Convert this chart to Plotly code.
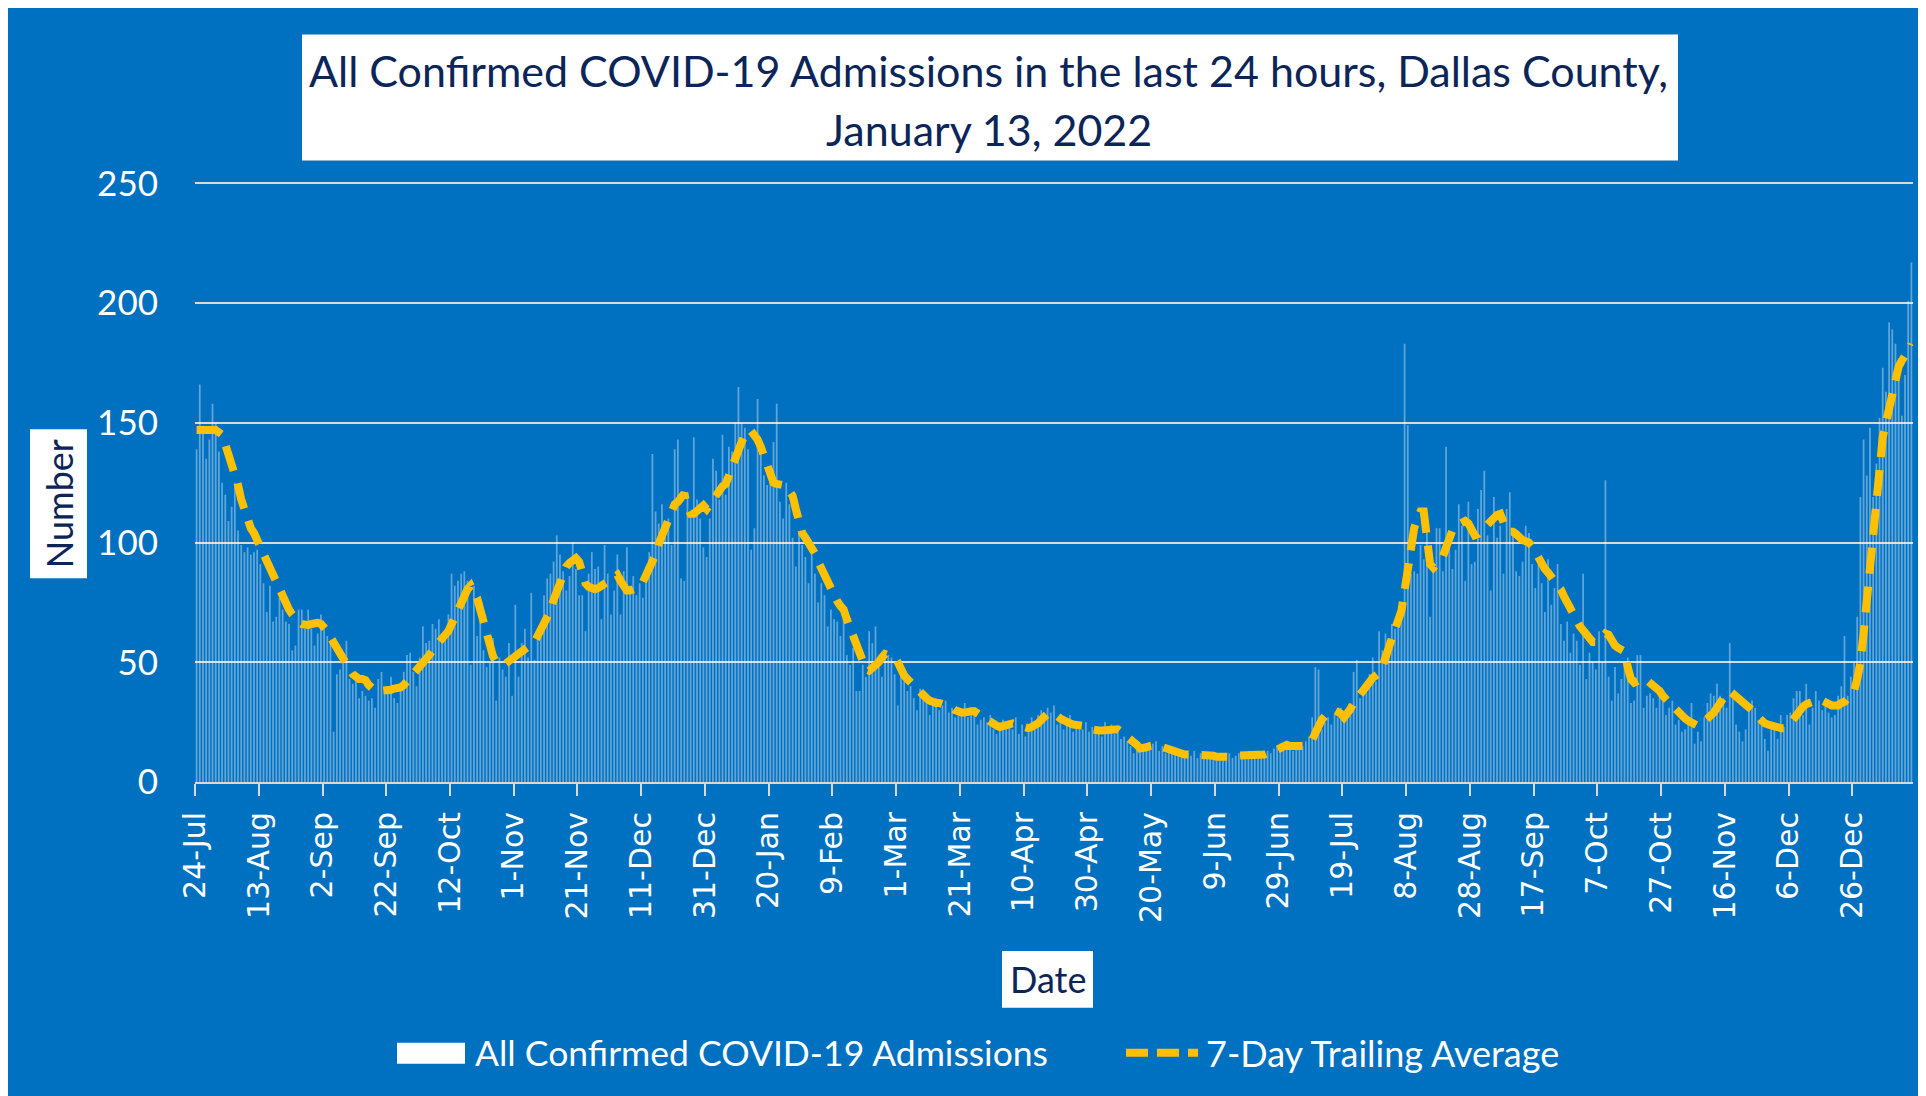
import pandas as pd
import plotly.graph_objects as go

# ---------------- DATA ----------------
START_DATE = "2020-07-24"

# Daily confirmed COVID-19 admissions, in 20-day blocks
adm_01 = [139,166,147,135,143,158,150,138,125,120,109,115,125,105,99,96,98,95,96,97]
adm_02 = [91,83,71,82,67,69,77,72,67,66,55,57,72,72,64,72,64,57,62,70]
adm_03 = [64,61,58,21,45,47,52,59,43,41,44,35,38,36,34,35,31,43,46,37]
adm_04 = [40,44,35,33,38,46,53,54,46,40,52,65,58,59,66,64,68,59,63,70]
adm_05 = [87,82,84,87,88,84,49,82,61,72,55,48,50,60,34,52,47,44,58,36]
adm_06 = [74,44,58,64,52,79,51,62,66,78,85,87,92,103,95,88,80,86,100,89]
adm_07 = [78,78,63,87,96,89,90,68,99,87,70,80,95,70,88,98,82,86,78,83]
adm_08 = [77,90,96,137,113,108,116,104,110,99,139,143,85,84,121,112,144,118,110,98]
adm_09 = [94,110,135,130,118,145,120,140,138,150,165,150,148,139,97,106,160,142,128,124]
adm_10 = [129,142,158,117,110,125,116,102,90,104,99,94,83,95,87,75,83,78,65,72]
adm_11 = [68,67,61,70,53,49,56,38,38,49,44,63,58,65,50,44,55,53,52,45]
adm_12 = [32,48,43,38,40,35,30,39,36,34,28,33,35,30,32,34,29,31,27,30]
adm_13 = [29,33,27,30,31,24,26,27,25,28,22,20,23,26,24,25,22,27,20,24]
adm_14 = [19,23,27,25,28,30,27,31,29,32,24,26,22,25,28,21,23,24,22,25]
adm_15 = [21,23,20,22,19,25,22,24,20,23,18,19,17,15,12,14,13,15,16,14]
adm_16 = [16,17,13,15,12,14,13,12,11,13,10,12,11,13,10,12,11,10,12,11]
adm_17 = [9,11,10,9,12,10,11,12,10,11,13,10,12,11,12,11,13,12,14,15]
adm_18 = [16,14,17,15,13,16,14,15,17,19,27,48,47,22,25,27,24,28,27,31]
adm_19 = [25,30,33,46,51,35,40,38,45,52,42,63,55,62,58,66,64,70,72,183]
adm_20 = [149,87,88,87,99,93,105,69,91,106,106,88,140,101,89,97,116,107,84,117]
adm_21 = [91,92,114,122,130,103,80,119,102,107,87,114,121,104,88,86,92,107,104,91]
adm_22 = [81,91,83,71,93,74,81,91,66,59,67,54,62,59,49,87,43,54,50,47]
adm_23 = [63,50,126,44,34,48,37,43,50,52,33,34,53,53,31,36,37,35,31,36]
adm_24 = [35,28,31,34,24,26,21,22,27,33,16,21,17,27,33,37,36,41,36,35]
adm_25 = [31,58,37,24,21,17,22,33,34,31,26,27,18,13,23,23,18,28,23,28]
adm_26 = [29,35,38,38,28,41,24,31,38,34,30,33,29,27,28,36,40,61,36,44]
adm_27 = [50,69,119,143,128,148,119,133,152,173,163,192,189,183,173,153,170,201,217]

# 7-day trailing average, in 20-day blocks
avg_01 = [147,147,147,147,147,147,147,146,145,141,137,134,129,124,118,113,109,106,104,101]
avg_02 = [97.5,95,92,89,85,82,79,76,74,72,70,68,67,66,65.5,65.5,66,66.5,66.5,66]
avg_03 = [65,63,60.5,58,55.5,53,51,49,47,45,43.5,43,43,42.5,40.5,38.5,38,38,38,38]
avg_04 = [38,38.5,39,39,39.5,40.5,42,43,44.5,46,47.5,49.5,51,53,55,57,58.5,60,61.5,63]
avg_05 = [66,70,73,75.5,78,80.5,82,80,77,72,67,61,56,52.5,50,49,49,49.5,50.5,51.5]
avg_06 = [52.5,53,54,55,56,57,58.5,61,63.5,66,68.5,71.5,76,79.5,83.5,87.5,90,91.5,93,93.5]
avg_07 = [92,87,83,81.5,81,80.5,81,82,83.5,84.5,85,85.5,86.5,84,81.5,80,80,80.5,81,81.5]
avg_08 = [83.5,86,89.5,91.5,95,99.5,103,106,110,113,116,117,119,120.5,115,112,112,113.5,115,115.5]
avg_09 = [114,116,118.5,120.5,122,123.5,124.5,128,133,137,140,142,145,147,146.5,145,143,140,136,131]
avg_10 = [127,125,124.5,124.5,124,123.5,122,119.5,114,108,104,102,100,98,95.5,92,89,86,83.5,81]
avg_11 = [78,75.5,73.5,72,68,64.5,62,59.5,55,50.5,47,46.5,47.5,48.5,50,52,53.5,53,52.5,52]
avg_12 = [50,46.5,44.5,43,41.5,40,38.5,37.5,36,35,34,33,33,33,32.5,32.5,32,31,30,29]
avg_13 = [29,29,29.5,29.5,29.5,28.5,27.5,27,26.5,25.5,24.5,23.5,23,23.5,24,24.5,24.5,24,23.5,23]
avg_14 = [22.5,22.5,23,23.5,24.5,26,27.5,28.5,29,28.5,27.5,26.5,25.5,25,24.5,24,24,23.5,23.5,23]
avg_15 = [23,22,21.5,21.5,21.5,21.5,22,22,22,22,21,20,19.5,18.5,17,15.5,14,14,14.5,15]
avg_16 = [15.5,15.5,15,14.5,14,14,13.5,13,12.5,12,11.5,11.5,11.5,11.5,11.5,11.5,11,11,11,11]
avg_17 = [10.5,10.5,10,10,10,10.5,10.5,11,11,11,11,11,11,11,11.5,11.5,12,12,12.5,13.5]
avg_18 = [14.5,15.5,15.5,15,15,14.5,14.5,14.5,15,16,17.5,20.5,24,26,27.5,29,29.5,30,29.5,28.5]
avg_19 = [27,28.5,30.5,33,35,37,39,40.5,42,43.5,44.5,45.5,48,51,56,60,63.5,67,71.5,80]
avg_20 = [89,100,106,110,113,113,104,91,89.5,91,93,94,98,102,105,107,108,109,109,108]
avg_21 = [105,103,103.5,105,106.5,107.5,108.5,110,111.5,112,108.5,105,104.5,104.5,103.5,102,101,100.5,100,98.5]
avg_22 = [96,93,90.5,89,87.5,86,84.5,83,80.5,77.5,74.5,72,70,67.5,65,63,61,59.5,58.5,58.5]
avg_23 = [59,60.5,62,61.5,59,57,56,55.5,54.5,48,43,41.5,42,43,43.5,42.5,41.5,41,40,38]
avg_24 = [36,34.5,33,32,31,29.5,28,26.5,25.5,24.5,24,23.5,24,25,26,27,29,31,33.5,35.5]
avg_25 = [37,38,37,35.5,34,33,32.5,31.5,30,28,26.5,25.5,24.5,24,23.5,23,22.5,22.5,22.5,23]
avg_26 = [24.5,26.5,28.5,30,31.5,32.5,33,34,34.5,34.5,34,33,32.5,32,32,32,33,33.5,35,36.5]
avg_27 = [38,43,50,62,76,91,107,121,134,144,150,156,162,169,173.5,176,177.5,180,183]

tick_labels = ["24-Jul", "13-Aug", "2-Sep", "22-Sep", "12-Oct", "1-Nov", "21-Nov",
               "11-Dec", "31-Dec", "20-Jan", "9-Feb", "1-Mar", "21-Mar", "10-Apr",
               "30-Apr", "20-May", "9-Jun", "29-Jun", "19-Jul", "8-Aug", "28-Aug",
               "17-Sep", "7-Oct", "27-Oct", "16-Nov", "6-Dec", "26-Dec"]
TICK_STEP_DAYS = 20
y_ticks = [0, 50, 100, 150, 200, 250]

admissions = (adm_01 + adm_02 + adm_03 + adm_04 + adm_05 + adm_06 + adm_07 + adm_08 + adm_09
              + adm_10 + adm_11 + adm_12 + adm_13 + adm_14 + adm_15 + adm_16 + adm_17 + adm_18
              + adm_19 + adm_20 + adm_21 + adm_22 + adm_23 + adm_24 + adm_25 + adm_26 + adm_27)
avg7 = (avg_01 + avg_02 + avg_03 + avg_04 + avg_05 + avg_06 + avg_07 + avg_08 + avg_09
        + avg_10 + avg_11 + avg_12 + avg_13 + avg_14 + avg_15 + avg_16 + avg_17 + avg_18
        + avg_19 + avg_20 + avg_21 + avg_22 + avg_23 + avg_24 + avg_25 + avg_26 + avg_27)

dates = pd.date_range(START_DATE, periods=len(admissions), freq="D")
avg_dates = pd.date_range(START_DATE, periods=len(avg7), freq="D")

# ---------------- STYLE / LAYOUT ----------------
OFF = 8                       # page body margin
W, H = 1926 - OFF, 1096 - OFF
Y_MAX = 251                   # small headroom so the 250 gridline is drawn
# plot-area box in screenshot pixels (250 sits at y=183, 0 at y=782)
PL, PR, PB = 195, 1913, 782
PT = PB - (PB - 183) * Y_MAX / 250
BLUE = "#0070C0"
GRID = "#D9D9D9"
NAVY = "#0B2559"
GOLD = "#FFC000"
half_day = pd.Timedelta(hours=12)


def fx(px):
    return (px - PL) / (PR - PL)


def fy(py):
    return (PB - py) / (PB - PT)


tickvals = [(dates[i] - half_day) for i in range(0, TICK_STEP_DAYS * len(tick_labels), TICK_STEP_DAYS)]

fig = go.Figure()
fig.add_trace(go.Bar(
    x=dates, y=admissions, name="All Confirmed COVID-19 Admissions",
    marker=dict(color="rgba(255,255,255,0.38)", line=dict(width=0)),
    showlegend=False, hoverinfo="x+y"))
fig.add_trace(go.Scatter(
    x=avg_dates, y=avg7, mode="lines", name="7-Day Trailing Average",
    line=dict(color=GOLD, width=8, dash="26px,13px"),
    showlegend=False))

fig.update_layout(
    width=W, height=H, autosize=False,
    margin=dict(l=PL - OFF, r=W - (PR - OFF), t=PT - OFF, b=H - (PB - OFF), pad=0),
    paper_bgcolor=BLUE, plot_bgcolor=BLUE,
    bargap=0.45, showlegend=False,
    font=dict(family="Lato", color="white"),
)
fig.update_xaxes(
    type="date",
    range=[dates[0] - half_day, dates[-1] + half_day],
    tickmode="array", tickvals=tickvals, ticktext=tick_labels,
    tickangle=-90,
    tickfont=dict(family="DejaVu Sans", size=30, color="white"),
    ticks="outside", ticklen=12, tickwidth=2, tickcolor=GRID,
    ticklabelstandoff=4,
    showline=True, linecolor=GRID, linewidth=2,
    showgrid=False, zeroline=False,
)
fig.update_yaxes(
    range=[0, Y_MAX], tickmode="array", tickvals=y_ticks,
    tickfont=dict(family="Lato", size=35, color="white"),
    showgrid=True, gridcolor=GRID, gridwidth=2,
    zeroline=False, showline=False, ticks="",
    ticklabelstandoff=36,
)

shapes = [
    # title box
    dict(type="rect", xref="paper", yref="paper", x0=fx(302), x1=fx(1678), y0=fy(160), y1=fy(34),
         fillcolor="white", line=dict(width=0), layer="above"),
    # y title box
    dict(type="rect", xref="paper", yref="paper", x0=fx(30), x1=fx(87), y0=fy(578), y1=fy(429),
         fillcolor="white", line=dict(width=0), layer="above"),
    # x title box
    dict(type="rect", xref="paper", yref="paper", x0=fx(1002), x1=fx(1093), y0=fy(1008), y1=fy(951),
         fillcolor="white", line=dict(width=0), layer="above"),
    # legend swatches
    dict(type="rect", xref="paper", yref="paper", x0=fx(397), x1=fx(465), y0=fy(1064), y1=fy(1043),
         fillcolor="white", line=dict(width=0), layer="above"),
    dict(type="line", xref="paper", yref="paper", x0=fx(1126), x1=fx(1198), y0=fy(1053), y1=fy(1053),
         line=dict(color=GOLD, width=8, dash="22px,9px"), layer="above"),
]

annotations = [
    dict(text="All Confirmed COVID-19 Admissions in the last 24 hours, Dallas County,",
         x=fx(988), y=fy(70), xref="paper", yref="paper", showarrow=False,
         xanchor="center", yanchor="middle", font=dict(family="Lato", size=43, color=NAVY)),
    dict(text="January 13, 2022",
         x=fx(989), y=fy(129), xref="paper", yref="paper", showarrow=False,
         xanchor="center", yanchor="middle", font=dict(family="Lato", size=43, color=NAVY)),
    dict(text="Number", x=fx(58.5), y=fy(503.5), xref="paper", yref="paper", showarrow=False,
         textangle=-90, xanchor="center", yanchor="middle",
         font=dict(family="Lato", size=36, color=NAVY)),
    dict(text="Date", x=fx(1047.5), y=fy(979.5), xref="paper", yref="paper", showarrow=False,
         xanchor="center", yanchor="middle", font=dict(family="Lato", size=36, color=NAVY)),
    dict(text="All Confirmed COVID-19 Admissions", x=fx(473), y=fy(1053), xref="paper", yref="paper",
         showarrow=False, xanchor="left", yanchor="middle",
         font=dict(family="Lato", size=35.5, color="white")),
    dict(text="7-Day Trailing Average", x=fx(1204), y=fy(1053), xref="paper", yref="paper",
         showarrow=False, xanchor="left", yanchor="middle",
         font=dict(family="Lato", size=36, color="white")),
]

fig.update_layout(shapes=shapes, annotations=annotations)

fig.write_html("out.html")
